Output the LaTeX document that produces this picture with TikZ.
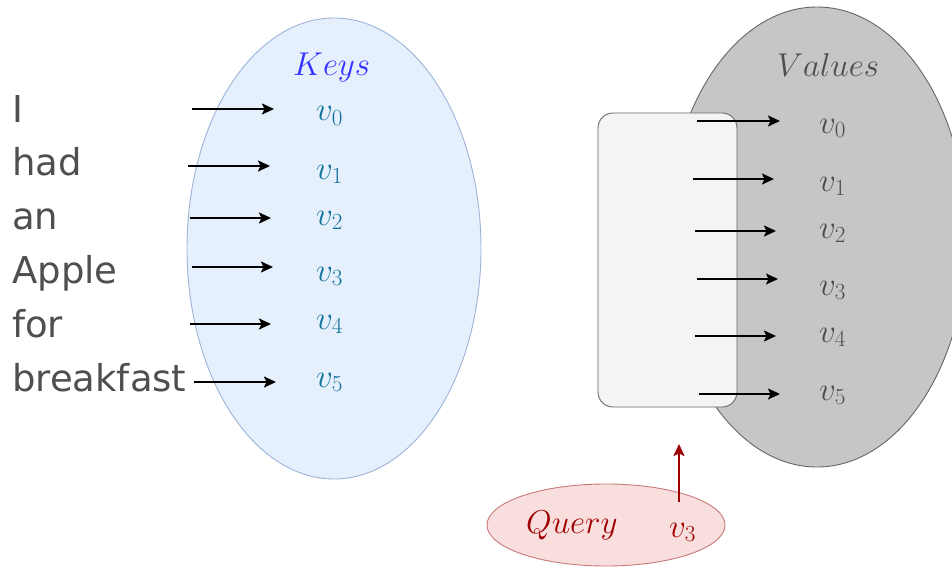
\RequirePackage{fix-cm}
\documentclass[tikz,border=0pt]{standalone}
\usepackage{fontspec}
\setsansfont{DejaVu Sans}
\usetikzlibrary{arrows.meta}

\definecolor{keyfill}{HTML}{E6EFFC}
\definecolor{keyline}{HTML}{9DB4D8}
\definecolor{keytitle}{HTML}{3333FF}
\definecolor{keytext}{HTML}{10739E}
\definecolor{valfill}{HTML}{C6C6C6}
\definecolor{valline}{HTML}{666666}
\definecolor{valtext}{HTML}{4D4D4D}
\definecolor{boxfill}{HTML}{F4F4F4}
\definecolor{qfill}{HTML}{F9DEDE}
\definecolor{qline}{HTML}{C87A78}
\definecolor{qtext}{HTML}{A00000}
\definecolor{wordtext}{HTML}{4F4F4F}

\tikzset{
  word/.style={anchor=base west, inner sep=0pt, text=wordtext,
    font=\sffamily\fontsize{37}{44}\selectfont},
  mathlbl/.style={anchor=base west, inner sep=0pt,
    font=\fontsize{33}{40}\selectfont},
  arr/.style={line width=2pt, -{Stealth[inset=2.5pt,length=12pt,width=11pt]}},
}

\begin{document}
\begin{tikzpicture}[x=1pt,y=-1pt]
\useasboundingbox (0,0) rectangle (952,567);
\clip (0,0) rectangle (952,567);

% keys ellipse
\path[fill=keyfill, draw=keyline, line width=0.9pt]
  (334,248.5) ellipse [x radius=147, y radius=230.5];
% values ellipse
\path[fill=valfill, draw=valline, line width=0.9pt]
  (817,237) ellipse [x radius=150, y radius=230];
% selection box over the values
\path[fill=boxfill, draw=valline, line width=0.9pt, rounded corners=15pt]
  (598,113) rectangle (737,407);
% query ellipse
\path[fill=qfill, draw=qline, line width=0.9pt]
  (606,525) ellipse [x radius=119, y radius=41];

% sentence words
\node[word] (w0) at (12,122) {I};
\node[word] (w1) at (12,175) {had};
\node[word] (w2) at (12,229) {an};
\node[word] (w3) at (12,283) {Apple};
\node[word] (w4) at (12,337) {for};
\node[word] (w5) at (12,391) {breakfast};

% keys
\node[mathlbl, text=keytitle] (kt) at (293,76) {$Keys$};
\node[mathlbl, text=keytext] (k0) at (316,121) {$v_0$};
\node[mathlbl, text=keytext] (k1) at (316,179) {$v_1$};
\node[mathlbl, text=keytext] (k2) at (316,225) {$v_2$};
\node[mathlbl, text=keytext] (k3) at (316,281) {$v_3$};
\node[mathlbl, text=keytext] (k4) at (316,329) {$v_4$};
\node[mathlbl, text=keytext] (k5) at (316,387) {$v_5$};

% values
\node[mathlbl, text=valtext] (vt) at (777,77) {$Values$};
\node[mathlbl, text=valtext] (u0) at (819,133) {$v_0$};
\node[mathlbl, text=valtext] (u1) at (819,191) {$v_1$};
\node[mathlbl, text=valtext] (u2) at (819,238) {$v_2$};
\node[mathlbl, text=valtext] (u3) at (819,295) {$v_3$};
\node[mathlbl, text=valtext] (u4) at (819,342) {$v_4$};
\node[mathlbl, text=valtext] (u5) at (819,400) {$v_5$};

% query
\node[mathlbl, text=qtext] (q) at (526,533) {$Query$};
\node[mathlbl, text=qtext] (q3) at (669,537) {$v_3$};

% arrow end points
\coordinate (a0s) at (192,109); \coordinate (a0e) at (274,109);
\coordinate (a1s) at (188,166); \coordinate (a1e) at (270,166);
\coordinate (a2s) at (190,218); \coordinate (a2e) at (271,218);
\coordinate (a3s) at (192,267); \coordinate (a3e) at (273,267);
\coordinate (a4s) at (190,324); \coordinate (a4e) at (271,324);
\coordinate (a5s) at (194,382); \coordinate (a5e) at (276,382);

\coordinate (b0s) at (697,121); \coordinate (b0e) at (780,121);
\coordinate (b1s) at (693,179); \coordinate (b1e) at (774,179);
\coordinate (b2s) at (695,231); \coordinate (b2e) at (776,231);
\coordinate (b3s) at (697,279); \coordinate (b3e) at (778,279);
\coordinate (b4s) at (695,336); \coordinate (b4e) at (776,336);
\coordinate (b5s) at (699,394); \coordinate (b5e) at (780,394);

\coordinate (qs) at (679,502); \coordinate (qe) at (679,444);

\foreach \i in {0,...,5} {
  \draw[arr] (a\i s) -- (a\i e);
  \draw[arr] (b\i s) -- (b\i e);
}
\draw[arr, draw=qtext, fill=qtext] (qs) -- (qe);
\end{tikzpicture}
\end{document}
